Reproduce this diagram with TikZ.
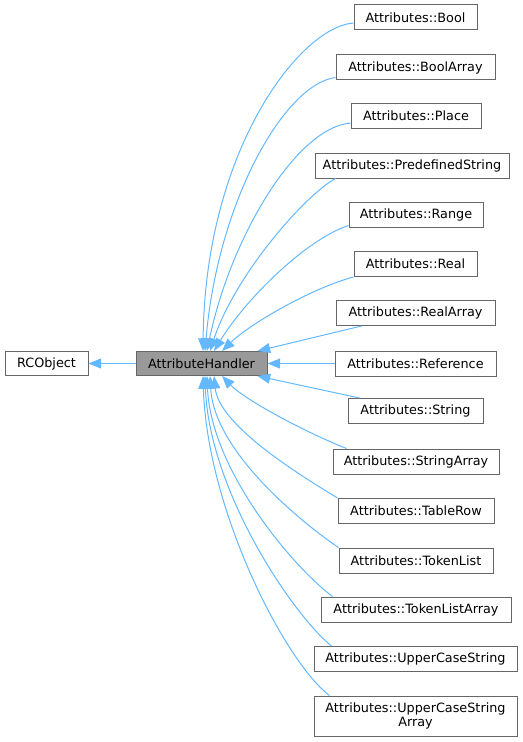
\documentclass[tikz,border=0pt]{standalone}
\usepackage{fontspec}
\setmainfont{DejaVu Sans}
\usetikzlibrary{arrows.meta,calc}
\definecolor{edgeblue}{HTML}{63B8FF}
\definecolor{boxgrey}{HTML}{666666}
\definecolor{curfill}{HTML}{999999}
\begin{document}
\begin{tikzpicture}[x=0.75pt,y=-0.75pt,
  box/.style={draw=boxgrey, fill=white, line width=0.75pt, inner sep=0pt,
    minimum height=18.75pt, align=center,
    font=\fontsize{9.6}{11}\selectfont},
  edge/.style={draw=edgeblue, line width=0.75pt,
    -{Triangle[length=9.5pt,width=7.5pt]}}]
\useasboundingbox (0,0) rectangle (523,742);
% nodes
\node[box, minimum width=62.25pt, minimum height=18pt] (rco) at (46.5,363.5) {RCObject};
\node[box, fill=curfill, minimum width=98.25pt, minimum height=18pt] (ah) at (201.5,363.5) {AttributeHandler};
\node[box, minimum width=92.25pt] (bool) at (415.5,17.5) {Attributes::Bool};
\node[box, minimum width=119.25pt] (boolarr) at (415.5,67.5) {Attributes::BoolArray};
\node[box, minimum width=97.5pt] (place) at (416,116) {Attributes::Place};
\node[box, minimum width=145.5pt] (predef) at (412,165.5) {Attributes::PredefinedString};
\node[box, minimum width=100.5pt] (range) at (416,214.5) {Attributes::Range};
\node[box, minimum width=92.25pt] (real) at (415.5,264) {Attributes::Real};
\node[box, minimum width=119.25pt] (realarr) at (415.5,313) {Attributes::RealArray};
\node[box, minimum width=120.75pt] (reference) at (415.5,363.5) {Attributes::Reference};
\node[box, minimum width=101.25pt] (string) at (415.5,411) {Attributes::String};
\node[box, minimum width=124.5pt] (strarr) at (416,461.5) {Attributes::StringArray};
\node[box, minimum width=117pt] (tablerow) at (416,511) {Attributes::TableRow};
\node[box, minimum width=115.5pt] (tokenlist) at (416,560.5) {Attributes::TokenList};
\node[box, minimum width=142.5pt] (tokenlistarr) at (416,609.5) {Attributes::TokenListArray};
\node[box, minimum width=152.25pt] (ucs) at (415.5,659) {Attributes::UpperCaseString};
\node[box, minimum width=152.25pt, minimum height=30pt] (ucsarr) at (415.5,716) {Attributes::UpperCaseString\\Array};
% edges
\draw[edge] (ah) -- (rco);
\draw[edge] ($(bool.west)+(0,5.5)$) .. controls (300,27) and (205,150) .. ($(ah.north)+(1.5,0)$);
\draw[edge] ($(boolarr.west)+(0,10)$) .. controls (285,84) and (218,200) .. ($(ah.north)+(3.5,0)$);
\draw[edge] ($(place.west)+(0,7)$) .. controls (295,128) and (230,240) .. ($(ah.north)+(5.5,0)$);
\draw[edge] ($(predef.south west)+(21,0)$) .. controls (305,195) and (235,275) .. ($(ah.north)+(8.5,0)$);
\draw[edge] ($(range.west)+(0,11)$) .. controls (305,240) and (245,300) .. ($(ah.north)+(12.5,0)$);
\draw[edge] (real.south west) .. controls (315,287) and (252,322) .. ($(ah.north)+(20.5,0)$);
\draw[edge] ($(realarr.south west)+(26,0)$) -- ($(ah.north east)+(-10,0)$);
\draw[edge] (reference) -- (ah);
\draw[edge] ($(string.north west)+(12,0)$) -- ($(ah.south east)+(-10,0)$);
\draw[edge] ($(strarr.north west)+(14,0)$) .. controls (305,432) and (245,400) .. ($(ah.south)+(20.5,0)$);
\draw[edge] (tablerow.north west) .. controls (298,474) and (219,425) .. ($(ah.south)+(12.5,0)$);
\draw[edge] (tokenlist.north west) .. controls (298,520) and (214,450) .. ($(ah.south)+(8.5,0)$);
\draw[edge] ($(tokenlistarr.north west)+(12,0)$) .. controls (293,567) and (211,470) .. ($(ah.south)+(5.5,0)$);
\draw[edge] ($(ucs.north west)+(18,0)$) .. controls (292,614) and (209,490) .. ($(ah.south)+(3.5,0)$);
\draw[edge] ($(ucsarr.north west)+(16,0)$) .. controls (285,662) and (207,510) .. ($(ah.south)+(1.5,0)$);
\end{tikzpicture}
\end{document}
